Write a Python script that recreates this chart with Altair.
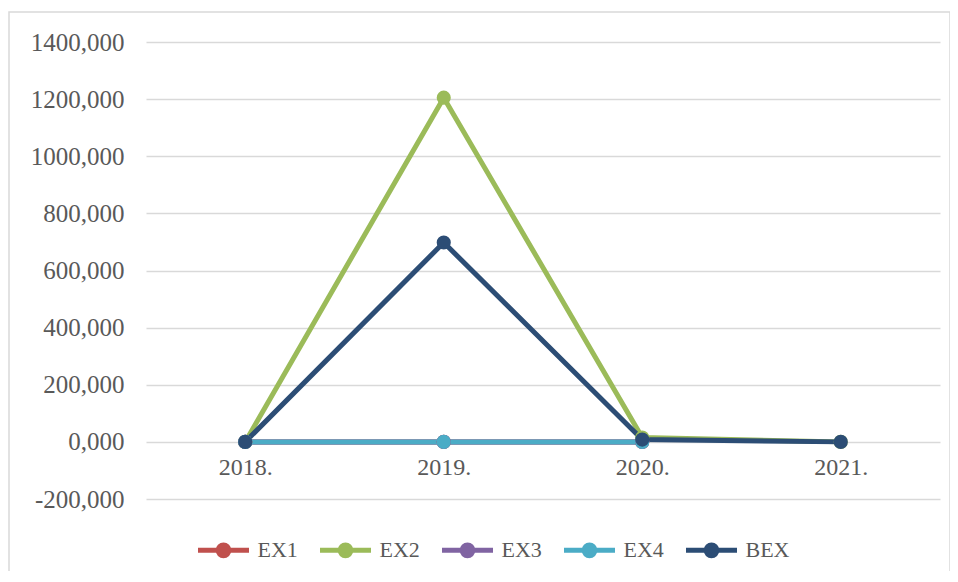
import altair as alt
import pandas as pd

years = ["2018.", "2019.", "2020.", "2021."]
series_names = ["EX1", "EX2", "EX3", "EX4", "BEX"]
ex1 = [0, 0, 0, None]
ex2 = [0, 1205, 15, 0]
ex3 = [0, 0, 0, None]
ex4 = [0, 0, 0, None]
bex = [0, 698, 8, 0]
colors = ["#C0504D", "#9BBB59", "#8064A2", "#4BACC6", "#2C4D75"]
y_ticks = [-200, 0, 200, 400, 600, 800, 1000, 1200, 1400]

rows = []
for name, vals in zip(series_names, [ex1, ex2, ex3, ex4, bex]):
    for yr, v in zip(years, vals):
        if v is not None:
            rows.append({"year": yr, "series": name, "value": v,
                         "order": series_names.index(name)})
df = pd.DataFrame(rows)

W, H = 794, 457
FONT = "Liberation Serif"
TXT = "#595959"
GRID = "#d9d9d9"

y_scale = alt.Scale(domain=[-200, 1400], nice=False, zero=False)
x_scale = alt.Scale(domain=years, padding=0.5)
color_scale = alt.Scale(domain=series_names, range=colors)

sym_path = ("M-1,0H1 M-0.21,0 a0.21,0.21 0 1,0 0.42,0 "
            "a0.21,0.21 0 1,0 -0.42,0")

x_enc = alt.X("year:O", scale=x_scale, sort=years, title=None,
              axis=alt.Axis(labelAngle=0, domain=False, ticks=False, tickSize=0,
                            grid=False, labelPadding=14, offset=-H * 200 / 1600,
                            labelFont=FONT, labelFontSize=24, labelColor=TXT))
y_enc = alt.Y("value:Q", scale=y_scale, title=None,
              axis=alt.Axis(values=y_ticks, domain=False, ticks=False, grid=True,
                            gridColor=GRID, gridWidth=1.5, labelPadding=22,
                            labelExpr="replace(replace(format(datum.value, '.3f'), '.', ','), '\u2212', '-')",
                            labelFont=FONT, labelFontSize=25, labelColor=TXT))

legend = alt.Legend(
    orient="none", direction="horizontal", legendX=49.5, legendY=480,
    symbolType=sym_path, symbolSize=2601, symbolStrokeWidth=5,
    labelFont=FONT, labelFontSize=22, labelColor=TXT, labelOffset=6,
    columnPadding=11, title=None)

color_enc = alt.Color("series:N", scale=color_scale, sort=series_names, legend=legend)

frame = alt.Chart(pd.DataFrame({"a": [0]})).mark_rect(
    fill="transparent", stroke=GRID, strokeWidth=1.5
).encode(x=alt.value(-137), x2=alt.value(804), y=alt.value(-30), y2=alt.value(538))

lines = alt.Chart(df).mark_line(strokeWidth=5).encode(
    x=x_enc, y=y_enc, color=color_enc, order=alt.Order("order:Q"),
)

points = alt.Chart(df).mark_point(filled=True, size=200, opacity=1).encode(
    x=x_enc, y=y_enc, color=color_enc, order=alt.Order("order:Q"),
)

chart = alt.layer(frame, lines, points).properties(
    width=W, height=H,
    autosize=alt.AutoSizeParams(type="none"),
    padding={"left": 138, "top": 34, "right": 10, "bottom": 72},
    background="white",
).configure_view(stroke=None)

chart.save("out.html", embed_options={"renderer": "svg", "actions": False})
